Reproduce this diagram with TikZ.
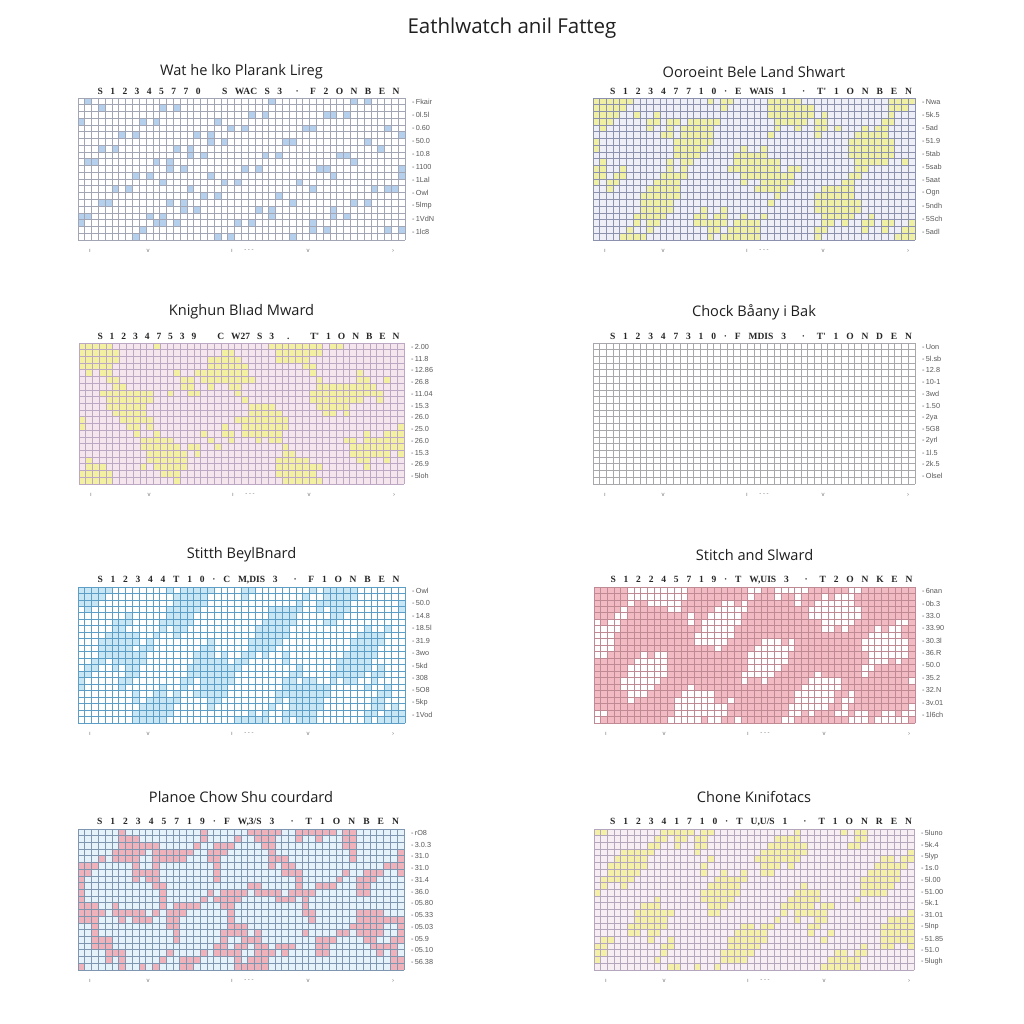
\documentclass[tikz,border=0pt]{standalone}
\usepackage{fontspec}
\setmainfont{Open Sans}
\newfontfamily\colfont{Liberation Serif}
\newfontfamily\smallfont{Liberation Sans}
\definecolor{pgA}{HTML}{A2A6B4}
\definecolor{pfA}{HTML}{B4D0EC}
\definecolor{pgB}{HTML}{8C92AE}
\definecolor{pbB}{HTML}{EEEEF6}
\definecolor{pfB}{HTML}{F0F0A4}
\definecolor{pgC}{HTML}{BCA8C4}
\definecolor{pbC}{HTML}{F5E6EE}
\definecolor{pfC}{HTML}{F4F0A2}
\definecolor{pgD}{HTML}{A8A8AC}
\definecolor{pgE}{HTML}{5C9EC6}
\definecolor{pfE}{HTML}{C8E6F4}
\definecolor{pgF}{HTML}{C08A94}
\definecolor{pfF}{HTML}{F2BAC2}
\definecolor{pgG}{HTML}{7E96B0}
\definecolor{pbG}{HTML}{E6F2FA}
\definecolor{pfG}{HTML}{F0B2BA}
\definecolor{pgH}{HTML}{B4A6BC}
\definecolor{pbH}{HTML}{F6EEF2}
\definecolor{pfH}{HTML}{F4F0A8}
\tikzset{
  gridline/.style={line width=0.85pt},
  ptitle/.style={font=\fontsize{14.6}{16}\selectfont, text=black!88, inner sep=1pt},
  maintitle/.style={font=\fontsize{20.5}{22}\selectfont, text=black!88, inner sep=1pt},
  collab/.style={font=\colfont\bfseries\fontsize{9.5}{10}\selectfont, text=black!85, inner sep=0pt},
  rlab/.style={font=\smallfont\fontsize{7.3}{8}\selectfont, text=black!65, anchor=west, inner sep=0pt},
  blab/.style={font=\smallfont\fontsize{6}{7}\selectfont, text=black!55, inner sep=0pt}
}
% #1 name, #2 x0, #3 y0, #4 x1, #5 y1, #6 bg, #7 fill, #8 line, #9 condition
\newcommand\cellpanel[9]{%
  \fill[#6] (#2,#3) rectangle (#4,#5);
  \pgfmathsetmacro\cw{(#4-#2)/48}%
  \pgfmathsetmacro\ch{(#5-#3)/21}%
  \foreach \i in {0,...,47}{%
    \foreach \j in {0,...,20}{%
      \pgfmathtruncatemacro\hit{#9}%
      \ifnum\hit>0
        \fill[#7] ({#2+\i*\cw},{#3+\j*\ch}) rectangle ++(\cw,\ch);
      \fi
    }%
  }%
  \foreach \k in {0,...,48}{\draw[#8,gridline] ({#2+\k*\cw},#3) -- ({#2+\k*\cw},#5);}%
  \foreach \k in {0,...,21}{\draw[#8,gridline] (#2,{#3+\k*\ch}) -- (#4,{#3+\k*\ch});}%
  \path (#2,#3) coordinate (#1-nw) (#4,#5) coordinate (#1-se);
}
% #1 name, #2 x0, #3 y0, #4 x1, #5 y1, #6 title, #7 title y, #8 column labels, #9 right labels
\newcommand\panellabels[9]{%
  \node[ptitle] (#1-title) at ({(#2+#4)/2},#7) {#6};
  \node[collab] (#1-cols) at ({(#2+#4)/2+7},{#3-7}) {\makebox[302pt][s]{#8}};
  \xdef\nlab{0}%
  \foreach \t in {#9}{\pgfmathtruncatemacro\tmp{\nlab+1}\xdef\nlab{\tmp}}%
  \pgfmathsetmacro\lsp{(#5-#3-12)/(\nlab-1)}%
  \foreach \t [count=\n from 0] in {#9}{\node[rlab] (#1-r\n) at ({#4+7},{#3+4+\n*\lsp}) {-\,\t};}%
  \foreach \dx/\s [count=\n] in {12/ı, 70/v, 154/ı, 171/- - -, 230/v, 315/›}{%
    \node[blab] (#1-b\n) at ({#2+\dx},{#5+11}) {\s};}%
}
\begin{document}
\begin{tikzpicture}[x=1pt,y=-1pt]
\useasboundingbox (0,0) rectangle (1024,1024);
\fill[white] (0,0) rectangle (1024,1024);
\node[maintitle] (main) at (512,28) {Eathlwatch anil Fatteg};

% Row 1
\cellpanel{pa}{78}{98}{405}{240}{white}{pfA}{pgA}{(sin(\i*97+\j*151+13)*sin(\i*61-\j*83+7)+0.5*sin(\i*29+\j*47))>0.78}
\panellabels{pa}{78}{98}{405}{240}{Wat he lko Plarank Lireg}{72}{S 1 2 3 4 5 7 7 0\hspace{14pt} S WAC S 3\hspace{6pt} · \hspace{4pt}F 2 O N B E N}{Fkair,0l.5l,0.60,50.0,10.8,1100,1Lal,Owl,5lmp,1VdN,1lc8}
\cellpanel{pb}{593}{98}{915}{240}{pbB}{pfB}{pgB}{(sin(\i*26+\j*13+20)+sin(\i*15-\j*33+60)+0.7*sin(\i*41+\j*29+10)+0.55*sin(\i*113+\j*71+5))>0.5}
\panellabels{pb}{593}{98}{915}{240}{Ooroeint Bele Land Shwart}{72}{S 1 2 3 4 7 7 1 0 · E WAIS 1\hspace{8pt} · \hspace{4pt}T' 1 O N B E N}{Nwa,5k.5,5ad,51.9,5tab,5sab,5aat,Ogn,5ndh,5Sch,5adl}

% Row 2
\cellpanel{pc}{79}{343}{404}{484}{pbC}{pfC}{pgC}{(sin(\i*22-\j*17+80)+sin(\i*13+\j*38+30)+0.7*sin(\i*37-\j*23+50)+0.55*sin(\i*107-\j*89+25))>0.55}
\panellabels{pc}{79}{343}{404}{484}{Knighun Blıad Mward}{312}{S 1 2 3 4 7 5 3 9\hspace{14pt} C W27 S 3\hspace{6pt} . \hspace{4pt}T' 1 O N B E N}{2.00,11.8,12.86,26.8,11.04,15.3,26.0,25.0,26.0,15.3,26.9,5loh}
\cellpanel{pd}{593}{343}{915}{484}{white}{white}{pgD}{0}
\panellabels{pd}{593}{343}{915}{484}{Chock Båany i Bak}{312}{S 1 2 3 4 7 3 1 0 · F MDIS 3\hspace{8pt} · \hspace{4pt}T' 1 O N D E N}{Uon,5l.sb,12.8,10-1,3wd,1.50,2ya,5G8,2yrl,1l.5,2k.5,Olsel}

% Row 3
\cellpanel{pe}{78}{587}{405}{723}{white}{pfE}{pgE}{(sin(\i*19+\j*27+100)+sin(\i*31-\j*12+15)+0.6*sin(\i*47+\j*35)+0.6*sin(\i*119+\j*77+40))>0.35}
\panellabels{pe}{78}{587}{405}{723}{Stitth BeylBnard}{555}{S 1 2 3 4 4 T 1 0 · C M,DIS 3\hspace{8pt} · \hspace{4pt}F 1 O N B E N}{Owl,50.0,14.8,18.5l,31.9,3wo,5kd,308,5O8,5kp,1Vod}
\cellpanel{pf}{594}{587}{915}{723}{white}{pfF}{pgF}{(sin(\i*24+\j*31+45)+sin(\i*17-\j*26+120)+0.6*sin(\i*43+\j*19+70)+0.55*sin(\i*101+\j*67+15))>-0.45}
\panellabels{pf}{594}{587}{915}{723}{Stitch and Slward}{555}{S 1 2 2 4 5 7 1 9 · T W,UIS 3\hspace{8pt} · \hspace{4pt}T 2 O N K E N}{6nan,0b.3,33.0,33.90,30.3l,36.R,50.0,35.2,32.N,3v.01,1l6ch}

% Row 4
\cellpanel{pg}{78}{829}{404}{970}{pbG}{pfG}{pgG}{abs(sin(\i*21+\j*15+30)+sin(\i*14-\j*29+75)+0.6*sin(\i*39+\j*23)+0.3*sin(\i*97+\j*61))<0.45}
\panellabels{pg}{78}{829}{404}{970}{Planoe Chow Shu courdard}{797}{S 1 2 3 4 5 7 1 9 · F W,3/S 3\hspace{8pt} · \hspace{4pt}T 1 O N B E N}{rO8,3.0.3,31.0,31.0,31.4,36.0,05.80,05.33,05.03,05.9,05.10,56.38}
\cellpanel{ph}{594}{829}{914}{970}{pbH}{pfH}{pgH}{(sin(\i*18+\j*34+200)+sin(\i*29-\j*14+40)+0.7*sin(\i*35+\j*41+90)+0.55*sin(\i*109+\j*83+60))>0.7}
\panellabels{ph}{594}{829}{914}{970}{Chone Kınifotacs}{797}{S 1 2 3 4 1 7 1 0 · T U,U/S 1\hspace{8pt} · \hspace{4pt}T 1 O N R E N}{5luno,5k.4,5lyp,1s.0,5l.00,51.00,5k.1,31.01,5lnp,51.85,51.0,5lugh}
\end{tikzpicture}
\end{document}
